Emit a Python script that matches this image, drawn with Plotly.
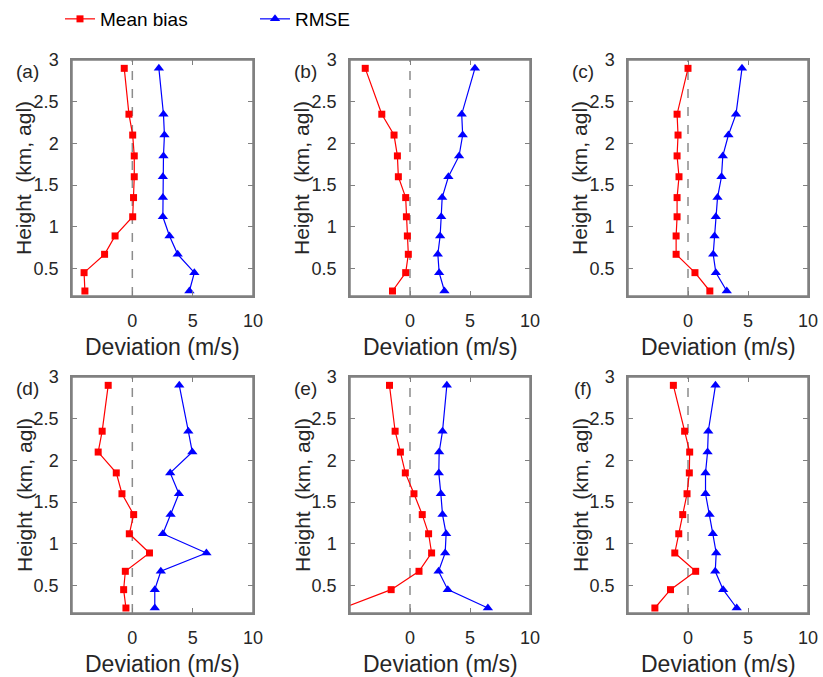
import plotly.graph_objects as go

# Heights of the profile levels (km, agl)
heights = [0.23, 0.45, 0.67, 0.89, 1.12, 1.35, 1.6, 1.85, 2.1, 2.35, 2.9]

# Mean bias and RMSE (m/s) for each panel, ordered by height
a_bias = [-3.93, -4.0, -2.3, -1.43, 0.03, 0.1, 0.16, 0.16, 0.03, -0.28, -0.67]
a_rmse = [4.73, 5.14, 3.76, 3.08, 2.53, 2.53, 2.53, 2.58, 2.66, 2.58, 2.2]
b_bias = [-1.46, -0.36, -0.14, -0.22, -0.3, -0.36, -0.97, -1.05, -1.33, -2.35, -3.73]
b_rmse = [2.87, 2.43, 2.32, 2.51, 2.6, 2.68, 3.2, 4.09, 4.39, 4.31, 5.41]
c_bias = [1.82, 0.58, -0.99, -0.99, -0.91, -0.91, -0.75, -0.91, -0.83, -0.91, 0.0]
c_rmse = [3.23, 2.32, 2.1, 2.21, 2.32, 2.46, 2.79, 2.9, 3.37, 4.0, 4.5]
d_bias = [-0.53, -0.72, -0.58, 1.42, -0.25, 0.11, -0.86, -1.33, -2.83, -2.5, -2.0]
d_rmse = [1.86, 1.86, 2.36, 6.14, 2.53, 3.17, 3.86, 3.14, 4.97, 4.64, 3.89]
e_bias = [-5.6, -1.57, 0.75, 1.8, 1.55, 1.02, 0.33, -0.39, -0.8, -1.24, -1.71]
e_rmse = [6.49, 3.15, 2.38, 2.93, 3.01, 2.71, 2.57, 2.4, 2.43, 2.71, 3.07]
f_bias = [-2.76, -1.46, 0.64, -1.1, -0.77, -0.44, -0.08, 0.11, 0.14, -0.28, -1.22]
f_rmse = [4.06, 2.93, 2.27, 2.35, 2.07, 1.8, 1.46, 1.46, 1.63, 1.69, 2.29]

panel_labels = ["(a)", "(b)", "(c)", "(d)", "(e)", "(f)"]
bias_sets = [a_bias, b_bias, c_bias, d_bias, e_bias, f_bias]
rmse_sets = [a_rmse, b_rmse, c_rmse, d_rmse, e_rmse, f_rmse]

x_range = [-5, 10]
x_ticks = [0, 5, 10]
y_range = [0.17, 3]
y_ticks = [0.5, 1, 1.5, 2, 2.5, 3]
y_ticklabels = ["0.5", "1", "1.5", "2", "2.5", "3"]

W, H = 823, 677
FONT = "Liberation Sans, Arial, sans-serif"
TXT = "#262626"
AX = "#808080"

# Pixel boxes of the panel columns and rows
col_px = [(72, 253), (350, 530), (628, 808)]
row_px = [(60, 296), (377, 613)]

fig = go.Figure()
layout = dict(
    width=W, height=H,
    margin=dict(l=0, r=0, t=0, b=0, autoexpand=False),
    paper_bgcolor="white", plot_bgcolor="white",
    font=dict(family=FONT, color=TXT),
    showlegend=True,
    legend=dict(orientation="h", x=60 / W, y=1 - 19 / H, xanchor="left", yanchor="middle",
                font=dict(size=19, color="black", family=FONT),
                bgcolor="rgba(0,0,0,0)", entrywidth=150, entrywidthmode="pixels",
                tracegroupgap=0, itemwidth=30),
)
annotations = []
shapes = []

for i in range(6):
    r, c = divmod(i, 3)
    n = i + 1
    xa = "xaxis" if n == 1 else f"xaxis{n}"
    ya = "yaxis" if n == 1 else f"yaxis{n}"
    xr = "x" if n == 1 else f"x{n}"
    yr = "y" if n == 1 else f"y{n}"
    x0, x1 = col_px[c]
    y0, y1 = row_px[r]
    layout[xa] = dict(
        domain=[x0 / W, x1 / W], anchor=yr, range=x_range,
        tickvals=x_ticks, ticktext=[str(v) for v in x_ticks],
        showline=True, linecolor=AX, linewidth=1.5, mirror="ticks",
        ticks="inside", ticklen=5, tickwidth=1.2, tickcolor=AX,
        showgrid=False, zeroline=False, ticklabelstandoff=8,
        tickfont=dict(size=18, color=TXT, family=FONT),
    )
    layout[ya] = dict(
        domain=[1 - y1 / H, 1 - y0 / H], anchor=xr, range=y_range,
        tickvals=y_ticks, ticktext=y_ticklabels,
        showline=True, linecolor=AX, linewidth=1.5, mirror="ticks",
        ticks="inside", ticklen=5, tickwidth=1.2, tickcolor=AX,
        showgrid=False, zeroline=False, ticklabelstandoff=8,
        tickfont=dict(size=18, color=TXT, family=FONT),
    )
    # zero reference line
    shapes.append(dict(type="line", xref=xr, yref=f"{yr} domain", x0=0, x1=0, y0=0, y1=1,
                       line=dict(color="#8c8c8c", width=1.5, dash="dash"), layer="below"))
    # panel frame
    shapes.append(dict(type="rect", xref=f"{xr} domain", yref=f"{yr} domain",
                       x0=0, x1=1, y0=0, y1=1, line=dict(color=AX, width=1.5),
                       fillcolor="rgba(0,0,0,0)", layer="above"))
    fig.add_trace(go.Scatter(
        x=bias_sets[i], y=heights, xaxis=xr, yaxis=yr, mode="lines+markers",
        name="Mean bias", legendgroup="bias", showlegend=(i == 0),
        line=dict(color="#ff0000", width=1.2),
        marker=dict(symbol="square", size=7, color="#ff0000"),
    ))
    fig.add_trace(go.Scatter(
        x=rmse_sets[i], y=heights, xaxis=xr, yaxis=yr, mode="lines+markers",
        name="RMSE", legendgroup="rmse", showlegend=(i == 0),
        line=dict(color="#0000ff", width=1.2),
        marker=dict(symbol="triangle-up", size=9, color="#0000ff"),
    ))
    # panel label
    annotations.append(dict(text=panel_labels[i], xref="paper", yref="paper",
                            x=(x0 - 45) / W, y=1 - (y0 + 11) / H,
                            xanchor="center", yanchor="middle", showarrow=False,
                            font=dict(size=19, color=TXT, family=FONT)))
    # axis titles
    annotations.append(dict(text="Height\u00a0 (km, agl)", xref="paper", yref="paper",
                            x=(x0 - 48) / W, y=1 - ((y0 + y1) / 2) / H, textangle=-90,
                            xanchor="center", yanchor="middle", showarrow=False,
                            font=dict(size=21, color=TXT, family=FONT)))
    annotations.append(dict(text="Deviation (m/s)", xref="paper", yref="paper",
                            x=((x0 + x1) / 2) / W, y=1 - (y1 + 51) / H,
                            xanchor="center", yanchor="middle", showarrow=False,
                            font=dict(size=23, color=TXT, family=FONT)))

layout["annotations"] = annotations
layout["shapes"] = shapes
fig.update_layout(**layout)
fig.write_html("out.html")
